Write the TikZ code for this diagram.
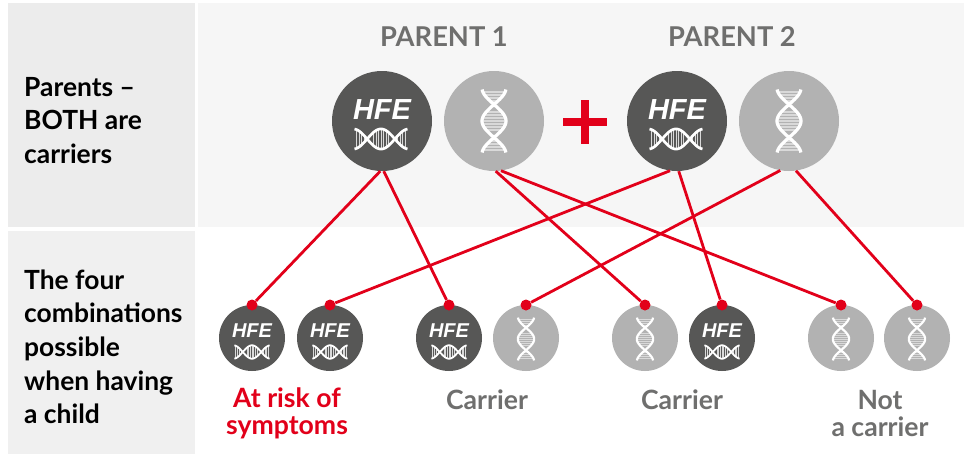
\documentclass[tikz,border=0pt]{standalone}
\usepackage{fontspec}
\setmainfont{Lato}
\newfontfamily\hfefont{Liberation Sans}
\definecolor{darkc}{HTML}{575756}
\definecolor{lightc}{HTML}{B2B2B2}
\definecolor{redc}{HTML}{E2001A}
\definecolor{panelL}{HTML}{ECECEC}
\definecolor{panelLb}{HTML}{F0F0F0}
\definecolor{panelT}{HTML}{F6F6F6}
\definecolor{textg}{HTML}{6F6F6E}
\newcommand{\dnaV}[4]{% x, y, scale, rotate
\begin{scope}[shift={(#1,#2)},rotate=#4,scale=#3,line cap=butt]
 \foreach \t in {-29,-26,-23,-20,-9,-6,-3,0,3,6,9,20,23,26,29}{
  \pgfmathsetmacro{\w}{12*abs(cos(\t*180/33))}
  \draw[white!85!black,line width=#3*0.8] (-\w,\t) -- (\w,\t);}
 \draw[white,line width=#3*2.4] plot[smooth,domain=-31.5:31.5,samples=40,variable=\t] ({12*cos(\t*180/33)},\t);
 \draw[white,line width=#3*2.4] plot[smooth,domain=-31.5:31.5,samples=40,variable=\t] ({-12*cos(\t*180/33)},\t);
\end{scope}}
\tikzset{
 big/.style={circle,minimum size=100,inner sep=0,fill=#1},
 small/.style={circle,minimum size=66,inner sep=0,fill=#1},
 dotn/.style={circle,minimum size=11,inner sep=0,fill=redc},
 link/.style={redc,line width=2.1},
 side/.style={font=\fontsize{26.4}{33.6}\selectfont\bfseries,text=black,align=left,anchor=north west,inner sep=0},
 head/.style={font=\fontsize{27.3}{28}\selectfont\bfseries,text=textg,inner sep=0},
 lab/.style={font=\fontsize{26.6}{27}\selectfont\bfseries,text=textg,align=center,inner sep=0},
 bigh/.style={font=\hfefont\fontsize{29}{29}\selectfont\bfseries\itshape,text=white,inner sep=0},
 smallh/.style={font=\hfefont\fontsize{20}{20}\selectfont\bfseries\itshape,text=white,inner sep=0},
}
\begin{document}
\begin{tikzpicture}[x=0.75pt,y=-0.75pt,every node/.append style={scale=0.75}]
\useasboundingbox[fill=white] (0,0) rectangle (964,454);
\fill[panelL] (8,3) rectangle (195,227);
\fill[panelLb] (8,231) rectangle (195,454);
\fill[panelT] (198,3) rectangle (964,227);
\node[side] (t1) at (24,77) {Parents –\\BOTH are\\carriers};
\node[side] (t2) at (24,269.5) {The four\\combinations\\possible\\when having\\a child};
\node[head] (h1) at (444,37) {PARENT 1};
\node[head] (h2) at (732,37) {PARENT 2};
% parents
\node[big=darkc] (pa) at (382,121) {};
\node[big=lightc] (pb) at (494,121) {};
\node[big=darkc] (pc) at (677,121) {};
\node[big=lightc] (pd) at (789,121) {};
% children
\foreach \n/\x/\c in {c1/252/darkc,c2/330/darkc,c3/449/darkc,c4/526/lightc,c5/645/lightc,c6/722/darkc,c7/841/lightc,c8/917/lightc}{
 \node[small=\c] (\n) at (\x,338) {};
 \node[dotn] (d\n) at (\x,305) {};
}
\draw[link] (pa.268) -- (dc1);
\draw[link] (pa.272) -- (dc3);
\draw[link] (pb.272) -- (dc5);
\draw[link] (pb.278) -- (dc7);
\draw[link] (pc.262) -- (dc2);
\draw[link] (pc.272) -- (dc6);
\draw[link] (pd.260) -- (dc4);
\draw[link] (pd.278) -- (dc8);
% plus
\fill[redc] (563,118) rectangle (607,126);
\fill[redc] (581,100) rectangle (589,144);
% icons
\node[bigh] (ha) at (382,110) {HFE};
\node[bigh] (hc) at (677,110) {HFE};
\dnaV{381}{139}{0.84}{90}
\dnaV{676}{139}{0.84}{90}
\dnaV{494}{121}{1}{0}
\dnaV{789}{121}{1}{0}
\foreach \n/\x in {a/252,b/330,c/449,d/722}{
 \node[smallh] (s\n) at (\x,331) {HFE};
 \dnaV{\x}{352}{0.56}{90}
}
\foreach \x in {526,645,841,917}{\dnaV{\x}{339}{0.68}{0}}
% labels
\node[lab,text=redc] (l1) at (287,413.5) {At risk of\\symptoms};
\node[lab] (l2) at (487,400) {Carrier};
\node[lab] (l3) at (682,400) {Carrier};
\node[lab] (l4) at (880,413.5) {Not\\a carrier};
\end{tikzpicture}
\end{document}
